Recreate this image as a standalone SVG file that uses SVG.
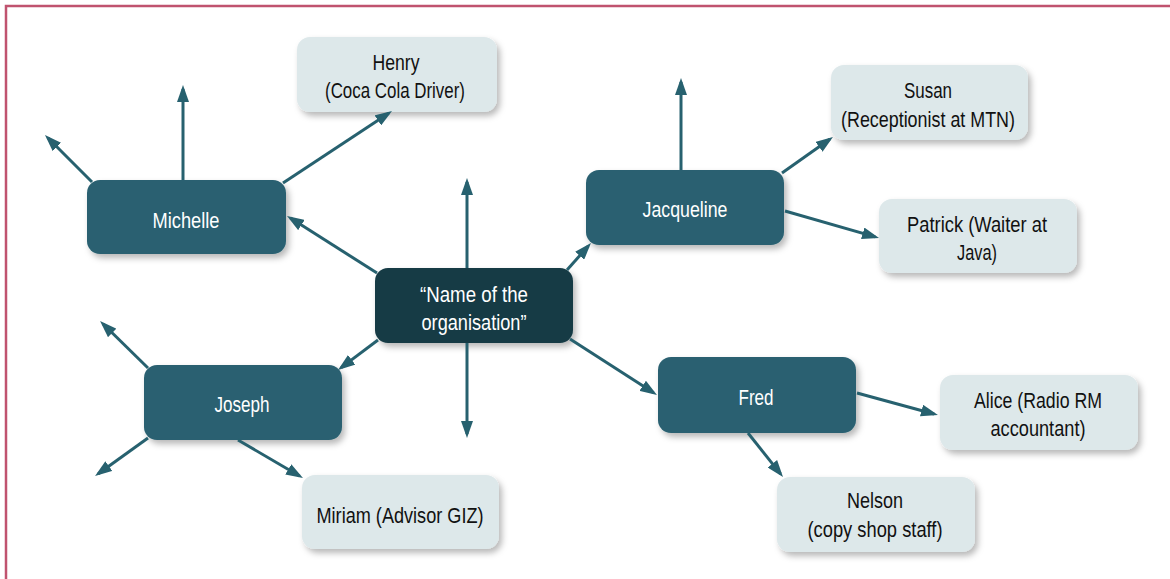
<svg xmlns="http://www.w3.org/2000/svg" width="1170" height="579" viewBox="0 0 1170 579">
<defs>
<filter id="sh" x="-10%" y="-20%" width="130%" height="150%">
<feDropShadow dx="3" dy="4" stdDeviation="3" flood-color="#000" flood-opacity="0.28"/>
</filter>
<marker id="ah" markerUnits="userSpaceOnUse" markerWidth="17" markerHeight="12" refX="13" refY="6" orient="auto">
<path d="M0,0 L17,6 L0,12 z" fill="#27616f"/>
</marker>
<style>
.dk{fill:#2a6171;filter:url(#sh)}
.ct{fill:#163a44;filter:url(#sh)}
.lt{fill:#dde8ea;filter:url(#sh)}
text{font-family:"Liberation Sans",Arial,sans-serif;font-size:22px;text-anchor:middle}
.w{fill:#ffffff}
.b{fill:#111111}
#conn line{stroke:#27616f;stroke-width:3;marker-end:url(#ah)}
</style>
</defs>
<rect x="0" y="0" width="1170" height="579" fill="#ffffff"/>
<path d="M6,590 V6 H1180" fill="none" stroke="#c0536f" stroke-width="2.5"/>

<g id="n-center"><rect class="ct" x="375" y="268" width="198" height="75" rx="13"/>
<text class="w" x="474" y="302" textLength="108" lengthAdjust="spacingAndGlyphs">“Name of the</text>
<text class="w" x="474" y="330" textLength="105" lengthAdjust="spacingAndGlyphs">organisation”</text></g>

<g id="n-michelle"><rect class="dk" x="87" y="180" width="199" height="74" rx="13"/>
<text class="w" x="186" y="228" textLength="67" lengthAdjust="spacingAndGlyphs">Michelle</text></g>

<g id="n-henry"><rect class="lt" x="297" y="37" width="200" height="75" rx="13"/>
<text class="b" x="396" y="70" textLength="47" lengthAdjust="spacingAndGlyphs">Henry</text>
<text class="b" x="395" y="98" textLength="140" lengthAdjust="spacingAndGlyphs">(Coca Cola Driver)</text></g>

<g id="n-jacqueline"><rect class="dk" x="586" y="170" width="198" height="75" rx="13"/>
<text class="w" x="685" y="217" textLength="85" lengthAdjust="spacingAndGlyphs">Jacqueline</text></g>

<g id="n-susan"><rect class="lt" x="831" y="65" width="197" height="75" rx="13"/>
<text class="b" x="928" y="98" textLength="48" lengthAdjust="spacingAndGlyphs">Susan</text>
<text class="b" x="928" y="127" textLength="174" lengthAdjust="spacingAndGlyphs">(Receptionist at MTN)</text></g>

<g id="n-patrick"><rect class="lt" x="879" y="199" width="198" height="74" rx="13"/>
<text class="b" x="977" y="232" textLength="140" lengthAdjust="spacingAndGlyphs">Patrick (Waiter at</text>
<text class="b" x="977" y="260" textLength="40" lengthAdjust="spacingAndGlyphs">Java)</text></g>

<g id="n-fred"><rect class="dk" x="658" y="357" width="198" height="76" rx="13"/>
<text class="w" x="756" y="405" textLength="35" lengthAdjust="spacingAndGlyphs">Fred</text></g>

<g id="n-alice"><rect class="lt" x="940" y="375" width="198" height="75" rx="13"/>
<text class="b" x="1038" y="408" textLength="128" lengthAdjust="spacingAndGlyphs">Alice (Radio RM</text>
<text class="b" x="1038" y="436" textLength="95" lengthAdjust="spacingAndGlyphs">accountant)</text></g>

<g id="n-nelson"><rect class="lt" x="777" y="477" width="198" height="75" rx="13"/>
<text class="b" x="875" y="508" textLength="56" lengthAdjust="spacingAndGlyphs">Nelson</text>
<text class="b" x="875" y="537" textLength="135" lengthAdjust="spacingAndGlyphs">(copy shop staff)</text></g>

<g id="n-joseph"><rect class="dk" x="144" y="365" width="198" height="75" rx="13"/>
<text class="w" x="242" y="412" textLength="55" lengthAdjust="spacingAndGlyphs">Joseph</text></g>

<g id="n-miriam"><rect class="lt" x="302" y="475" width="197" height="74" rx="13"/>
<text class="b" x="400" y="523" textLength="167" lengthAdjust="spacingAndGlyphs">Miriam (Advisor GIZ)</text></g>

<g id="conn">
<line x1="183" y1="180" x2="183" y2="89"/>
<line x1="92" y1="182" x2="47.8" y2="137.8"/>
<line x1="283" y1="183" x2="388.7" y2="113.2"/>
<line x1="377" y1="273" x2="290.4" y2="218.1"/>
<line x1="378" y1="340" x2="341.2" y2="367.6"/>
<line x1="467" y1="268" x2="467" y2="182"/>
<line x1="467" y1="343" x2="467" y2="434"/>
<line x1="567" y1="270" x2="588.3" y2="246"/>
<line x1="570" y1="339" x2="653.6" y2="392.8"/>
<line x1="681" y1="170" x2="681" y2="82"/>
<line x1="782" y1="173" x2="829.7" y2="139.3"/>
<line x1="785" y1="211" x2="875.2" y2="236.9"/>
<line x1="857" y1="393" x2="934.1" y2="414"/>
<line x1="748" y1="433" x2="780.5" y2="473.9"/>
<line x1="148" y1="368" x2="102.9" y2="323.8"/>
<line x1="148" y1="438" x2="98.3" y2="473.7"/>
<line x1="238" y1="440" x2="299.5" y2="476"/>
</g>
</svg>
